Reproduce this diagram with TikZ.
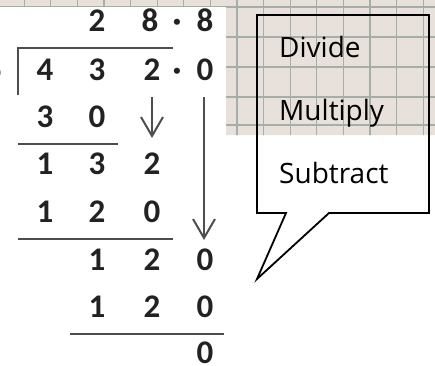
\documentclass[tikz,border=0pt]{standalone}
\usepackage{fontspec}
\setmainfont{Carlito}
\newfontfamily\calloutfont{Open Sans}
\usetikzlibrary{arrows.meta}
\definecolor{paper}{HTML}{E8E0DA}
\definecolor{gridline}{HTML}{A5AFA8}
\definecolor{ink}{HTML}{222222}
\definecolor{pencil}{HTML}{4D4D4D}
\tikzset{
  digit/.style={font=\bfseries\fontsize{33}{36}\selectfont,text=ink,inner sep=0pt,anchor=base},
  rule/.style={draw=pencil,line width=2pt},
  bring/.style={-{Straight Barb[length=19pt,width=22pt,line width=2pt]},draw=pencil,line width=2pt},
  steptext/.style={font=\calloutfont\fontsize{28}{31}\selectfont,text=black,anchor=base west,inner sep=0pt},
  callout/.style={draw=black,line width=1.8pt,line join=miter}
}
\begin{document}
\begin{tikzpicture}[x=1pt,y=1pt]
\path[use as bounding box] (0,0) rectangle (435,365);
% squared paper behind
\begin{scope}
\clip (0,365) -- (435,365) -- (435,230) -- (226,230) -- (226,358) -- (0,358) -- cycle;
\fill[paper] (0,0) rectangle (435,365);
\foreach \k in {0,...,16} \draw[gridline,line width=1.1pt] ({24.2+26.6*\k},0) -- ({24.2+26.6*\k},365);
\foreach \gy in {358,328,298,268,240} \draw[gridline,line width=1.1pt] (0,\gy) -- (435,\gy);
\end{scope}
% quotient
\node[digit] (q1) at (97,333) {2}; \node[digit] (q2) at (150,333) {8}; \node[digit] (qd) at (177,333) {·}; \node[digit] (q3) at (205,333) {8};
% divisor and dividend
\node[digit] (dv) at (-7,285) {6};
\node[digit] (n1) at (45,285) {4}; \node[digit] (n2) at (97,285) {3}; \node[digit] (n3) at (152,285) {2}; \node[digit] (nd) at (177,285) {·}; \node[digit] (n4) at (205,285) {0};
\draw[rule] (18,270) -- (18,317) -- (173,317);
% steps
\node[digit] (a1) at (45,238) {3}; \node[digit] (a2) at (97,238) {0};
\draw[rule] (18,221) -- (118,221);
\node[digit] (b1) at (45,191) {1}; \node[digit] (b2) at (97,191) {3}; \node[digit] (b3) at (152,191) {2};
\node[digit] (c1) at (45,143) {1}; \node[digit] (c2) at (97,143) {2}; \node[digit] (c3) at (152,143) {0};
\draw[rule] (18,126) -- (173,126);
\node[digit] (d1) at (97,95) {1}; \node[digit] (d2) at (152,95) {2}; \node[digit] (d3) at (205,95) {0};
\node[digit] (e1) at (97,48) {1}; \node[digit] (e2) at (152,48) {2}; \node[digit] (e3) at (205,48) {0};
\draw[rule] (70,31) -- (224,31);
\node[digit] (f3) at (205,2) {0};
% bring-down arrows
\coordinate (s1) at (152,268); \coordinate (s2) at (152,227);
\coordinate (l1) at (204,268); \coordinate (l2) at (204,125);
\draw[bring] (s1) -- (s2); \draw[bring] (l1) -- (l2);
% speech bubble
\draw[callout] (257,152) -- (257,350) -- (429,350) -- (429,152) -- (329,152) -- (257,86) -- (286,152) -- cycle;
\node[steptext] (st1) at (279,308) {Divide};
\node[steptext] (st2) at (279,245) {Multiply};
\node[steptext] (st3) at (279,182) {Subtract};
\end{tikzpicture}
\end{document}
